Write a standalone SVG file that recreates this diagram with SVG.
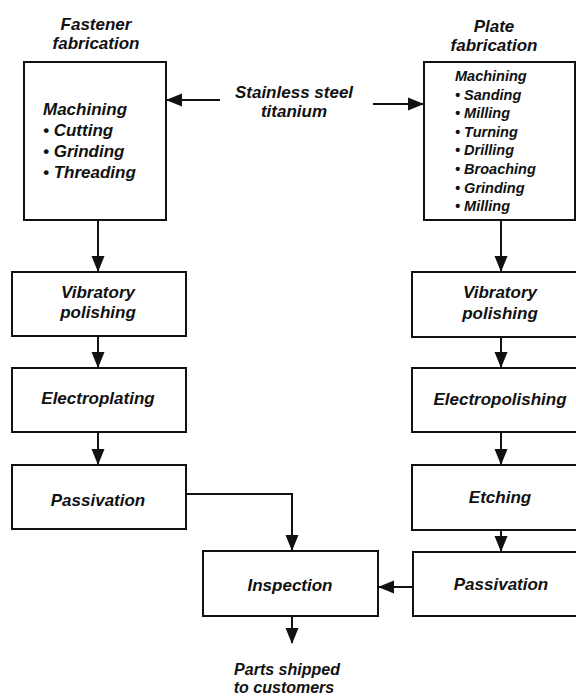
<svg xmlns="http://www.w3.org/2000/svg" width="576" height="696" viewBox="0 0 576 696">
<style>
text{font-family:"Liberation Sans",Arial,sans-serif;font-weight:bold;font-style:italic;fill:#111;font-size:17px}
.c{text-anchor:middle}
.s{font-size:14.5px}
.p{font-size:16px}
.box{fill:#fff;stroke:#111;stroke-width:2}
.ln{fill:none;stroke:#111;stroke-width:2;marker-end:url(#ah)}
</style>
<defs>
<marker id="ah" markerUnits="userSpaceOnUse" markerWidth="16" markerHeight="16" viewBox="0 0 16 16" refX="15" refY="8" orient="auto">
<path d="M0,1.5 L16,8 L0,14.5 Z" fill="#111"/>
</marker>
</defs>
<rect width="576" height="696" fill="#fff"/>

<g id="fastener-title">
<text class="c" x="96" y="30">Fastener</text>
<text class="c" x="96" y="49">fabrication</text>
</g>
<g id="plate-title">
<text class="c" x="494" y="32">Plate</text>
<text class="c" x="494" y="51">fabrication</text>
</g>

<g id="stainless">
<text class="c" x="294" y="98">Stainless steel</text>
<text class="c" x="294" y="117">titanium</text>
</g>

<g id="fastener-machining">
<rect class="box" x="24" y="62" width="142" height="158"/>
<text x="43" y="115">Machining</text>
<text x="43" y="136">• Cutting</text>
<text x="43" y="157">• Grinding</text>
<text x="43" y="178">• Threading</text>
</g>

<g id="plate-machining">
<rect class="box" x="424" y="62" width="151" height="158"/>
<text class="s" x="455" y="81">Machining</text>
<text class="s" x="455" y="99.6">• Sanding</text>
<text class="s" x="455" y="118.2">• Milling</text>
<text class="s" x="455" y="136.8">• Turning</text>
<text class="s" x="455" y="155.4">• Drilling</text>
<text class="s" x="455" y="174">• Broaching</text>
<text class="s" x="455" y="192.6">• Grinding</text>
<text class="s" x="455" y="211.2">• Milling</text>
</g>

<g id="left-vibratory">
<rect class="box" x="12" y="272" width="174" height="64"/>
<text class="c" x="98" y="298">Vibratory</text>
<text class="c" x="98" y="318">polishing</text>
</g>
<g id="electroplating">
<rect class="box" x="12" y="368" width="174" height="64"/>
<text class="c" x="98" y="404">Electroplating</text>
</g>
<g id="left-passivation">
<rect class="box" x="12" y="465" width="174" height="64"/>
<text class="c" x="98" y="506">Passivation</text>
</g>

<g id="right-vibratory">
<rect class="box" x="412" y="272" width="176" height="65"/>
<text class="c" x="500" y="298">Vibratory</text>
<text class="c" x="500" y="319">polishing</text>
</g>
<g id="electropolishing">
<rect class="box" x="412" y="368" width="176" height="64"/>
<text class="c" x="500" y="405">Electropolishing</text>
</g>
<g id="etching">
<rect class="box" x="412" y="465" width="176" height="65"/>
<text class="c" x="500" y="503">Etching</text>
</g>
<g id="right-passivation">
<rect class="box" x="413" y="552" width="176" height="64"/>
<text class="c" x="501" y="590">Passivation</text>
</g>

<g id="inspection">
<rect class="box" x="203" y="551" width="175" height="65"/>
<text class="c" x="290" y="591">Inspection</text>
</g>

<g id="shipped">
<text class="c p" x="287" y="675">Parts shipped</text>
<text class="c p" x="284" y="693">to customers</text>
</g>

<g id="connectors">
<line class="ln" x1="220" y1="100" x2="167" y2="100"/>
<line class="ln" x1="373" y1="104" x2="423" y2="104"/>
<line class="ln" x1="98" y1="221" x2="98" y2="271"/>
<line class="ln" x1="98" y1="337" x2="98" y2="367"/>
<line class="ln" x1="98" y1="433" x2="98" y2="464"/>
<path class="ln" d="M187,494 H292 V550"/>
<line class="ln" x1="501" y1="221" x2="501" y2="271"/>
<line class="ln" x1="501" y1="338" x2="501" y2="367"/>
<line class="ln" x1="501" y1="433" x2="501" y2="464"/>
<line class="ln" x1="501" y1="531" x2="501" y2="551"/>
<line class="ln" x1="412" y1="587" x2="379" y2="587"/>
<line class="ln" x1="292" y1="617" x2="292" y2="643"/>
</g>
</svg>
